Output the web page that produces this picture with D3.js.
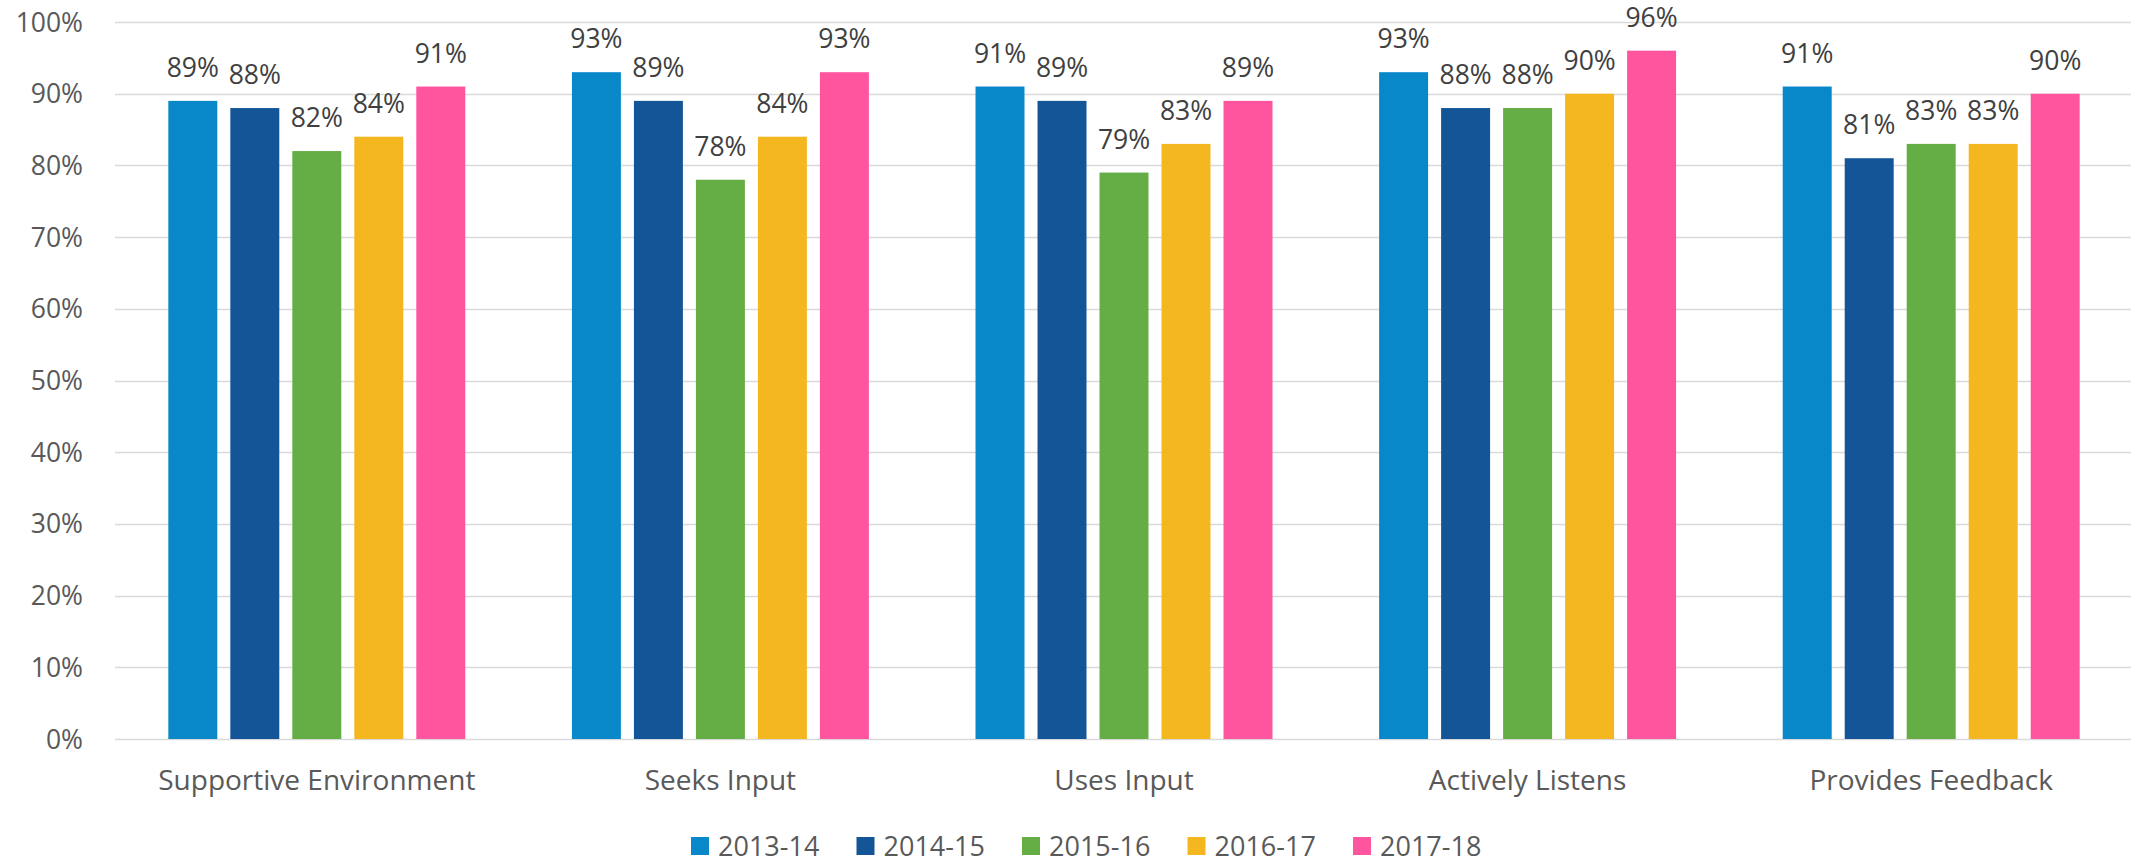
<!DOCTYPE html>
<html>
<head>
<meta charset="utf-8">
<script src="https://cdn.jsdelivr.net/npm/d3@7"></script>
<style>
  html, body { margin: 0; padding: 0; background: #fff; }
  svg { display: block; font-family: "Open Sans", sans-serif; }
</style>
</head>
<body>
<svg id="chart" width="2131" height="864"></svg>
<script>
// chart data
const categories = ["Supportive Environment", "Seeks Input", "Uses Input", "Actively Listens", "Provides Feedback"];
const seriesNames = ["2013-14", "2014-15", "2015-16", "2016-17", "2017-18"];
const seriesColors = ["#0888c9", "#135597", "#65ad45", "#f4b720", "#ff559f"];
const values2013 = [0.89, 0.93, 0.91, 0.93, 0.91];
const values2014 = [0.88, 0.89, 0.89, 0.88, 0.81];
const values2015 = [0.82, 0.78, 0.79, 0.88, 0.83];
const values2016 = [0.84, 0.84, 0.83, 0.90, 0.83];
const values2017 = [0.91, 0.93, 0.89, 0.96, 0.90];
const allValues = [values2013, values2014, values2015, values2016, values2017];
const yTicks = [0, 0.1, 0.2, 0.3, 0.4, 0.5, 0.6, 0.7, 0.8, 0.9, 1.0];

const svg = d3.select("#chart");
const plotLeft = 115, plotRight = 2133, plotTop = 22, plotBottom = 739;

const x0 = d3.scaleBand().domain(categories).range([plotLeft, plotRight]).padding(0);
const x1 = d3.scaleBand().domain(seriesNames).range([0, x0.bandwidth()])
  .paddingInner(0.21).paddingOuter(0.86);
const y = d3.scaleLinear().domain([0, 1]).range([plotBottom, plotTop]);
const fmt = d3.format(".0%");

// gridlines
svg.append("g")
  .selectAll("line")
  .data(yTicks)
  .join("line")
  .attr("x1", plotLeft)
  .attr("x2", 2131)
  .attr("y1", (d) => Math.round(y(d)) + 0.5)
  .attr("y2", (d) => Math.round(y(d)) + 0.5)
  .attr("stroke", "#d9d9d9")
  .attr("stroke-width", 1.5);

// y axis labels
svg.append("g")
  .selectAll("text")
  .data(yTicks)
  .join("text")
  .attr("x", 83)
  .attr("y", (d) => y(d))
  .attr("dy", "0.36em")
  .attr("text-anchor", "end")
  .attr("font-size", 26.5)
  .attr("fill", "#595959")
  .text((d) => fmt(d));

// bars
const groups = svg.append("g")
  .selectAll("g")
  .data(categories)
  .join("g")
  .attr("transform", (d) => `translate(${x0(d)},0)`);

const cells = groups.selectAll("g")
  .data((cat, ci) => seriesNames.map((s, si) => ({ s, si, v: allValues[si][ci] })))
  .join("g");

cells.append("rect")
  .attr("x", (d) => x1(d.s))
  .attr("width", x1.bandwidth())
  .attr("y", (d) => y(d.v))
  .attr("height", (d) => y(0) - y(d.v))
  .attr("fill", (d) => seriesColors[d.si]);

cells.append("text")
  .attr("x", (d) => x1(d.s) + x1.bandwidth() / 2)
  .attr("y", (d) => y(d.v) - 24)
  .attr("text-anchor", "middle")
  .attr("font-size", 26.5)
  .attr("fill", "#404040")
  .text((d) => fmt(d.v));

// category labels
svg.append("g")
  .selectAll("text")
  .data(categories)
  .join("text")
  .attr("x", (d) => x0(d) + x0.bandwidth() / 2)
  .attr("y", 790)
  .attr("text-anchor", "middle")
  .attr("font-size", 28)
  .attr("fill", "#595959")
  .text((d) => d);

// legend
const legendX = d3.scaleBand().domain(seriesNames).range([691, 691 + 5 * 165.5]);
const legend = svg.append("g")
  .selectAll("g")
  .data(seriesNames)
  .join("g")
  .attr("transform", (d) => `translate(${legendX(d)},837)`);

legend.append("rect")
  .attr("width", 18)
  .attr("height", 18)
  .attr("fill", (d, i) => seriesColors[i]);

legend.append("text")
  .attr("x", 27)
  .attr("y", 19)
  .attr("font-size", 27)
  .attr("fill", "#595959")
  .text((d) => d);
</script>
</body>
</html>
